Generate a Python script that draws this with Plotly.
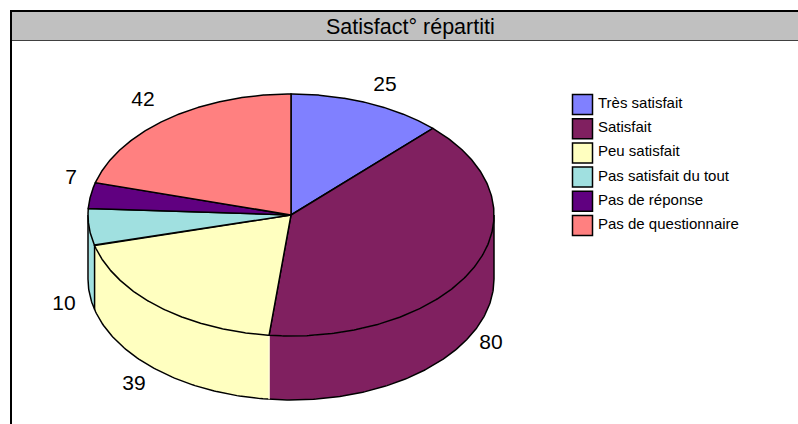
import numpy as np
import plotly.graph_objects as go

# ---- data ----
categories = ["Très satisfait", "Satisfait", "Peu satisfait", "Pas satisfait du tout", "Pas de réponse", "Pas de questionnaire"]
values = [25, 80, 39, 10, 7, 42]
title_text = "Satisfact° répartiti"

# ---- style / layout ----
colors = ["#8080ff", "#802060", "#ffffc0", "#a0e0e0", "#600080", "#ff8080"]
FONT = "Liberation Sans, Arial, sans-serif"
W, H = 798, 424
CX, CY, RX, RY, DEPTH = 291, 215, 203, 121, 64
label_xy = [(385, 86), (491, 344), (134, 385), (64, 305), (71, 179), (143, 101)]
LEG_X, LEG_Y0, LEG_STEP, LEG_SIZE = 582.5, 104.5, 24.2, 20


def arc(a0, a1, dy=0.0):
    t = np.radians(np.linspace(a0, a1, 240))
    return CX + RX * np.sin(t), CY - RY * np.cos(t) + dy


total = sum(values)
cum = np.concatenate([[0], np.cumsum(values)]) * 360.0 / total
fig = go.Figure()


def poly(x, y, fill, line=None, width=1.0):
    fig.add_trace(go.Scatter(
        x=list(x), y=list(y), mode="lines", fill="toself", fillcolor=fill,
        line=dict(color=line or "rgba(0,0,0,0)", width=width if line else 0),
        hoverinfo="skip", showlegend=False))


def stroke(x, y, color="#000000", width=1.5):
    fig.add_trace(go.Scatter(
        x=list(x), y=list(y), mode="lines", line=dict(color=color, width=width),
        hoverinfo="skip", showlegend=False))


# side walls: only the front half (90..270 degrees clockwise from top) is visible
for i, c in enumerate(colors):
    a0, a1 = max(cum[i], 90), min(cum[i + 1], 270)
    if a1 <= a0:
        continue
    xt, yt = arc(a0, a1)
    xb, yb = arc(a0, a1, DEPTH)
    poly(np.r_[xt, xb[::-1]], np.r_[yt, yb[::-1]], c)

# wall outlines
xb, yb = arc(90, 270, DEPTH)
stroke(xb[:], yb[:])
stroke([CX + RX, CX + RX], [CY, CY + DEPTH])
stroke([CX - RX, CX - RX], [CY, CY + DEPTH])
for i in range(len(values)):
    a = cum[i + 1]
    if 90 < a < 270:
        xa, ya = arc(a, a)
        is_light = i == 1
        stroke([xa[0], xa[0]], [ya[0], ya[0] + DEPTH],
               color="#ffffd8" if is_light else "#000000", width=1.5)

# top faces
for i, c in enumerate(colors):
    xt, yt = arc(cum[i], cum[i + 1])
    poly(np.r_[CX, xt, CX], np.r_[CY, yt, CY], c, "#000000", 1.5)

# value labels
fig.add_trace(go.Scatter(
    x=[p[0] for p in label_xy], y=[p[1] for p in label_xy], mode="text",
    text=[str(v) for v in values], textposition="middle center",
    textfont=dict(family=FONT, size=21, color="#000000"),
    hoverinfo="skip", showlegend=False))

# legend
fig.add_trace(go.Scatter(
    x=[LEG_X] * len(categories),
    y=[LEG_Y0 + LEG_STEP * i for i in range(len(categories))],
    mode="markers", marker=dict(symbol="square", size=LEG_SIZE, color=colors,
                                line=dict(color="#000000", width=1.5)),
    hoverinfo="skip", showlegend=False))
for i, name in enumerate(categories):
    fig.add_annotation(x=595.5, y=LEG_Y0 - 2 + LEG_STEP * i, text=name, showarrow=False,
                       xanchor="left", yanchor="middle", xref="x", yref="y",
                       font=dict(family=FONT, size=15, color="#000000"))

shapes = [
    dict(type="rect", x0=11, x1=W + 5, y0=12, y1=40, fillcolor="#c0c0c0",
         line=dict(width=0), layer="below"),
    dict(type="line", x0=11, x1=W + 5, y0=40.5, y1=40.5, line=dict(color="#404040", width=1), layer="below"),
    dict(type="line", x0=10, x1=W + 5, y0=11, y1=11, line=dict(color="#000000", width=2), layer="below"),
    dict(type="line", x0=11, x1=11, y0=10, y1=H + 5, line=dict(color="#000000", width=2), layer="below"),
]

fig.add_annotation(x=410, y=27, text=title_text, showarrow=False, xanchor="center", yanchor="middle",
                   xref="x", yref="y", font=dict(family=FONT, size=21.5, color="#000000"))

fig.update_layout(
    width=W, height=H, margin=dict(l=0, r=0, t=0, b=0),
    paper_bgcolor="#ffffff", plot_bgcolor="#ffffff", shapes=shapes, showlegend=False,
    xaxis=dict(range=[0, W], visible=False, fixedrange=True),
    yaxis=dict(range=[H, 0], visible=False, fixedrange=True),
)
fig.write_html("out.html", config={"displayModeBar": False},
               post_script="document.body.style.margin='0';")
